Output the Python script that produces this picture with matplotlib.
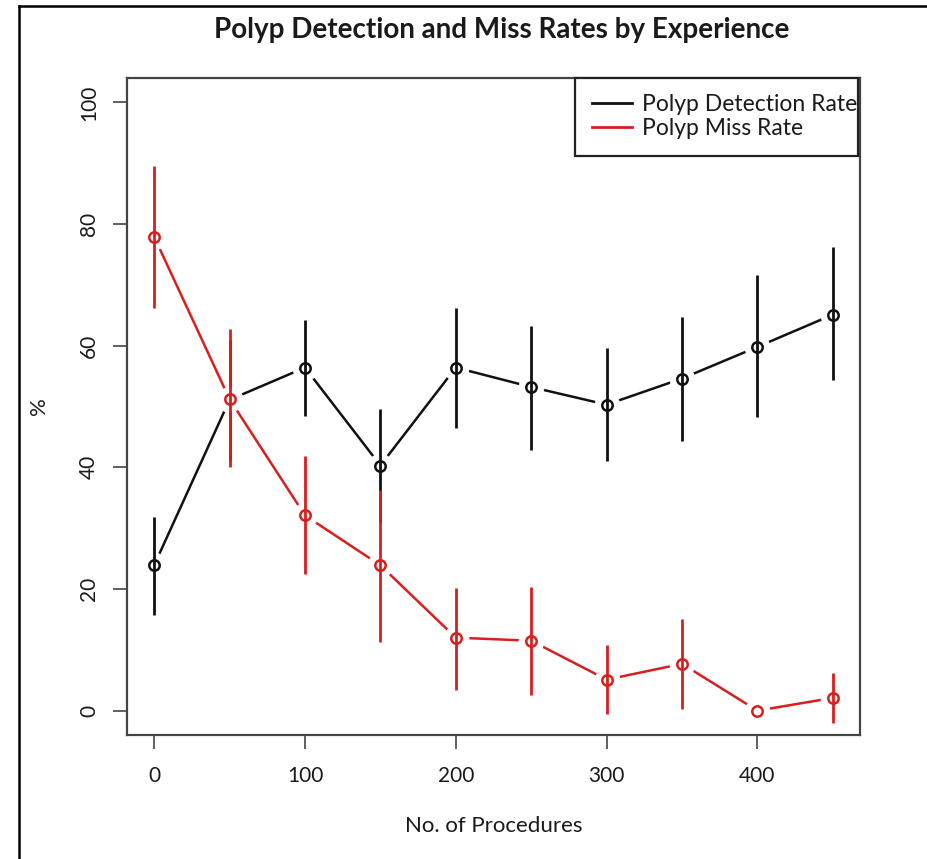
import matplotlib
matplotlib.use("Agg")
import matplotlib.pyplot as plt
from matplotlib.lines import Line2D
from matplotlib.patches import Rectangle

procedures = [0, 50, 100, 150, 200, 250, 300, 350, 400, 450]
detection = [23.9, 51.1, 56.4, 40.3, 56.4, 53.2, 50.3, 54.6, 59.8, 65.1]
detection_lo = [15.8, 41.0, 48.4, 31.0, 46.4, 42.8, 41.0, 44.3, 48.2, 54.3]
detection_hi = [31.8, 61.0, 64.2, 49.6, 66.2, 63.2, 59.6, 64.7, 71.6, 76.2]
miss = [77.9, 51.2, 32.1, 23.9, 12.0, 11.5, 5.1, 7.7, 0.0, 2.1]
miss_lo = [66.2, 40.0, 22.4, 11.3, 3.4, 2.6, -0.6, 0.3, 0.0, -2.0]
miss_hi = [89.5, 62.7, 41.9, 36.2, 20.2, 20.3, 10.8, 15.1, 0.0, 6.2]
series_names = ["Polyp Detection Rate", "Polyp Miss Rate"]
xticks = [0, 100, 200, 300, 400]
yticks = [0, 20, 40, 60, 80, 100]

FONT = ["Lato", "DejaVu Sans"]
plt.rcParams["font.family"] = FONT
TXT = "#1a1a1a"

W, H = 928, 859
fig = plt.figure(figsize=(9.28, 8.59), dpi=100)
ax = fig.add_axes([127/W, 1 - 735/H, 733/W, 657/H])

# figure border (left and top only)
fig.add_artist(Line2D([19/W, 19/W], [0, 1 - 6/H], transform=fig.transFigure, color="black", lw=1.8))
fig.add_artist(Line2D([19/W, 1], [1 - 6/H, 1 - 6/H], transform=fig.transFigure, color="black", lw=1.8))

def draw(y, lo, hi, color, z):
    ax.plot(procedures, y, color=color, lw=1.8, zorder=z, solid_capstyle="butt")
    ax.plot(procedures, y, ls="none", marker="o", ms=18, mfc="white", mec="white", mew=0.5, zorder=z + 1)
    for xi, l, h in zip(procedures, lo, hi):
        if h > l:
            ax.vlines(xi, l, h, color=color, lw=2.0, zorder=z + 2)
    ax.plot(procedures, y, ls="none", marker="o", ms=7.5, mfc="none", mec=color, mew=1.8, zorder=z + 3)

draw(detection, detection_lo, detection_hi, "#111111", 2)
draw(miss, miss_lo, miss_hi, "#d91e1e", 6)

ax.set_xlim(-18, 468)
ax.set_ylim(-4, 104)
ax.set_xticks(xticks)
ax.set_yticks(yticks)
ax.tick_params(axis="both", direction="out", length=10, width=1.2, color="#444444", labelcolor=TXT, labelsize=15)
ax.tick_params(axis="x", pad=12)
ax.tick_params(axis="y", pad=10)
for lab in ax.get_yticklabels():
    lab.set_rotation(90)
    lab.set_va("center")
for s in ax.spines.values():
    s.set_color("#444444")
    s.set_linewidth(1.6)

ax.set_xlabel("No. of Procedures", fontsize=16, color=TXT, labelpad=22)
ax.set_ylabel("%", fontsize=16, color=TXT, labelpad=22)
fig.text(502/W, 1 - 30/H, "Polyp Detection and Miss Rates by Experience", ha="center", va="center",
         fontsize=20, fontweight="bold", color=TXT)

# legend box (R style: text may touch the right border)
ax.add_patch(Rectangle(((575 - 127)/733, (735 - 156)/657), (858 - 575)/733, 78/657,
                       transform=ax.transAxes, facecolor="white", edgecolor="#222222", lw=1.6,
                       zorder=20, clip_on=False))
handles = [Line2D([], [], color="#111111", lw=2), Line2D([], [], color="#d91e1e", lw=2)]
leg = ax.legend(handles, series_names, loc="upper left", bbox_to_anchor=((592 - 127)/733, (735 - 94)/657),
                borderaxespad=0, borderpad=0, frameon=False, fontsize=16.5, handlelength=1.75,
                handletextpad=0.45, labelspacing=0.12)
leg.set_zorder(21)
for t in leg.get_texts():
    t.set_color(TXT)

fig.savefig("out.png", dpi=100)
